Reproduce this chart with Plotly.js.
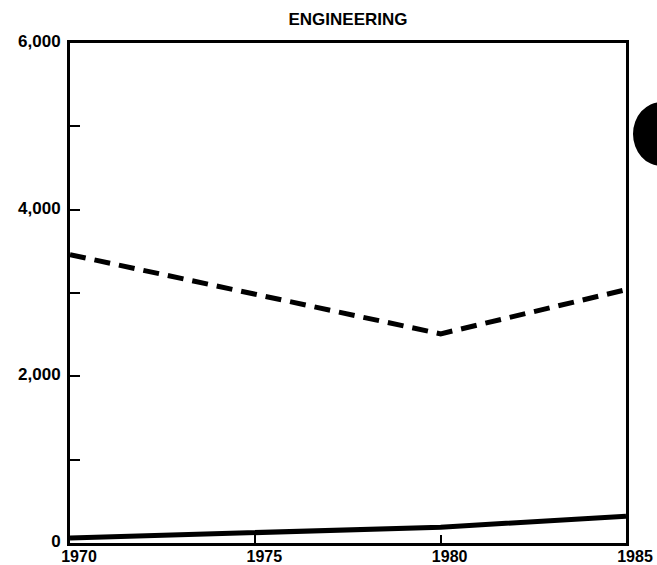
<!DOCTYPE html>
<html>
<head>
<meta charset="utf-8">
<script src="https://cdn.plot.ly/plotly-3.0.1.min.js"></script>
<style>html,body{margin:0;padding:0;background:#fff;}#chart{width:657px;height:565px;}</style>
</head>
<body>
<div id="chart"></div>
<script>
const years = [1970, 1975, 1980, 1985];
const dashedSeries = [3460, null, 2510, 3040];
const solidSeries = [60, 120, 190, 320];
const xTickLabels = ["1970", "1975", "1980", "1985"];
const yTickVals = [0, 1000, 2000, 3000, 4000, 5000, 6000];
const yTickLabels = ["0", "", "2,000", "", "4,000", "", "6,000"];

const font = {family: "Liberation Sans, Arial, sans-serif", size: 17, color: "#000"};
const xfont = {family: "Liberation Sans, Arial, sans-serif", size: 16, color: "#000"};

const traces = [
  {x: years, y: dashedSeries, mode: "lines", connectgaps: true,
   line: {color: "#000", width: 5, dash: "16px,9px"}, hoverinfo: "skip"},
  {x: years, y: solidSeries, mode: "lines", line: {color: "#000", width: 5}, hoverinfo: "skip"}
];

const layout = {
  width: 657, height: 565,
  margin: {l: 70, r: 31, t: 43, b: 22},
  paper_bgcolor: "#fff", plot_bgcolor: "#fff",
  showlegend: false,
  title: {text: "<b>ENGINEERING</b>", font: {family: "Liberation Sans, Arial, sans-serif", size: 17, color: "#000"},
          x: 0.5, xref: "paper", y: 1 - 19 / 565, yref: "container", xanchor: "center", yanchor: "middle"},
  xaxis: {range: [1970, 1985], tickvals: years, ticktext: xTickLabels.map(t => "<b>" + t + "</b>"),
          ticks: "inside", ticklen: 8, tickwidth: 2, tickcolor: "#000", ticklabelstandoff: -3, ticklabelshift: 9,
          showline: true, linewidth: 3, linecolor: "#000", mirror: true,
          showgrid: false, zeroline: false, tickfont: xfont, fixedrange: true, automargin: false},
  yaxis: {range: [0, 6000], tickvals: yTickVals, ticktext: yTickLabels.map(t => t ? "<b>" + t + "</b>" : ""),
          ticks: "inside", ticklen: 10, tickwidth: 2, tickcolor: "#000", ticklabelstandoff: 3, ticklabelshift: -2,
          showline: true, linewidth: 3, linecolor: "#000", mirror: true,
          showgrid: false, zeroline: false, tickfont: font, fixedrange: true, automargin: false},
  shapes: [
    {type: "circle", xref: "paper", yref: "paper", x0: 1.0126, x1: 1.115, y0: 0.754, y1: 0.882,
     fillcolor: "#000", line: {width: 0}, layer: "above"}
  ]
};

Plotly.newPlot("chart", traces, layout, {displayModeBar: false, staticPlot: true});
</script>
</body>
</html>
